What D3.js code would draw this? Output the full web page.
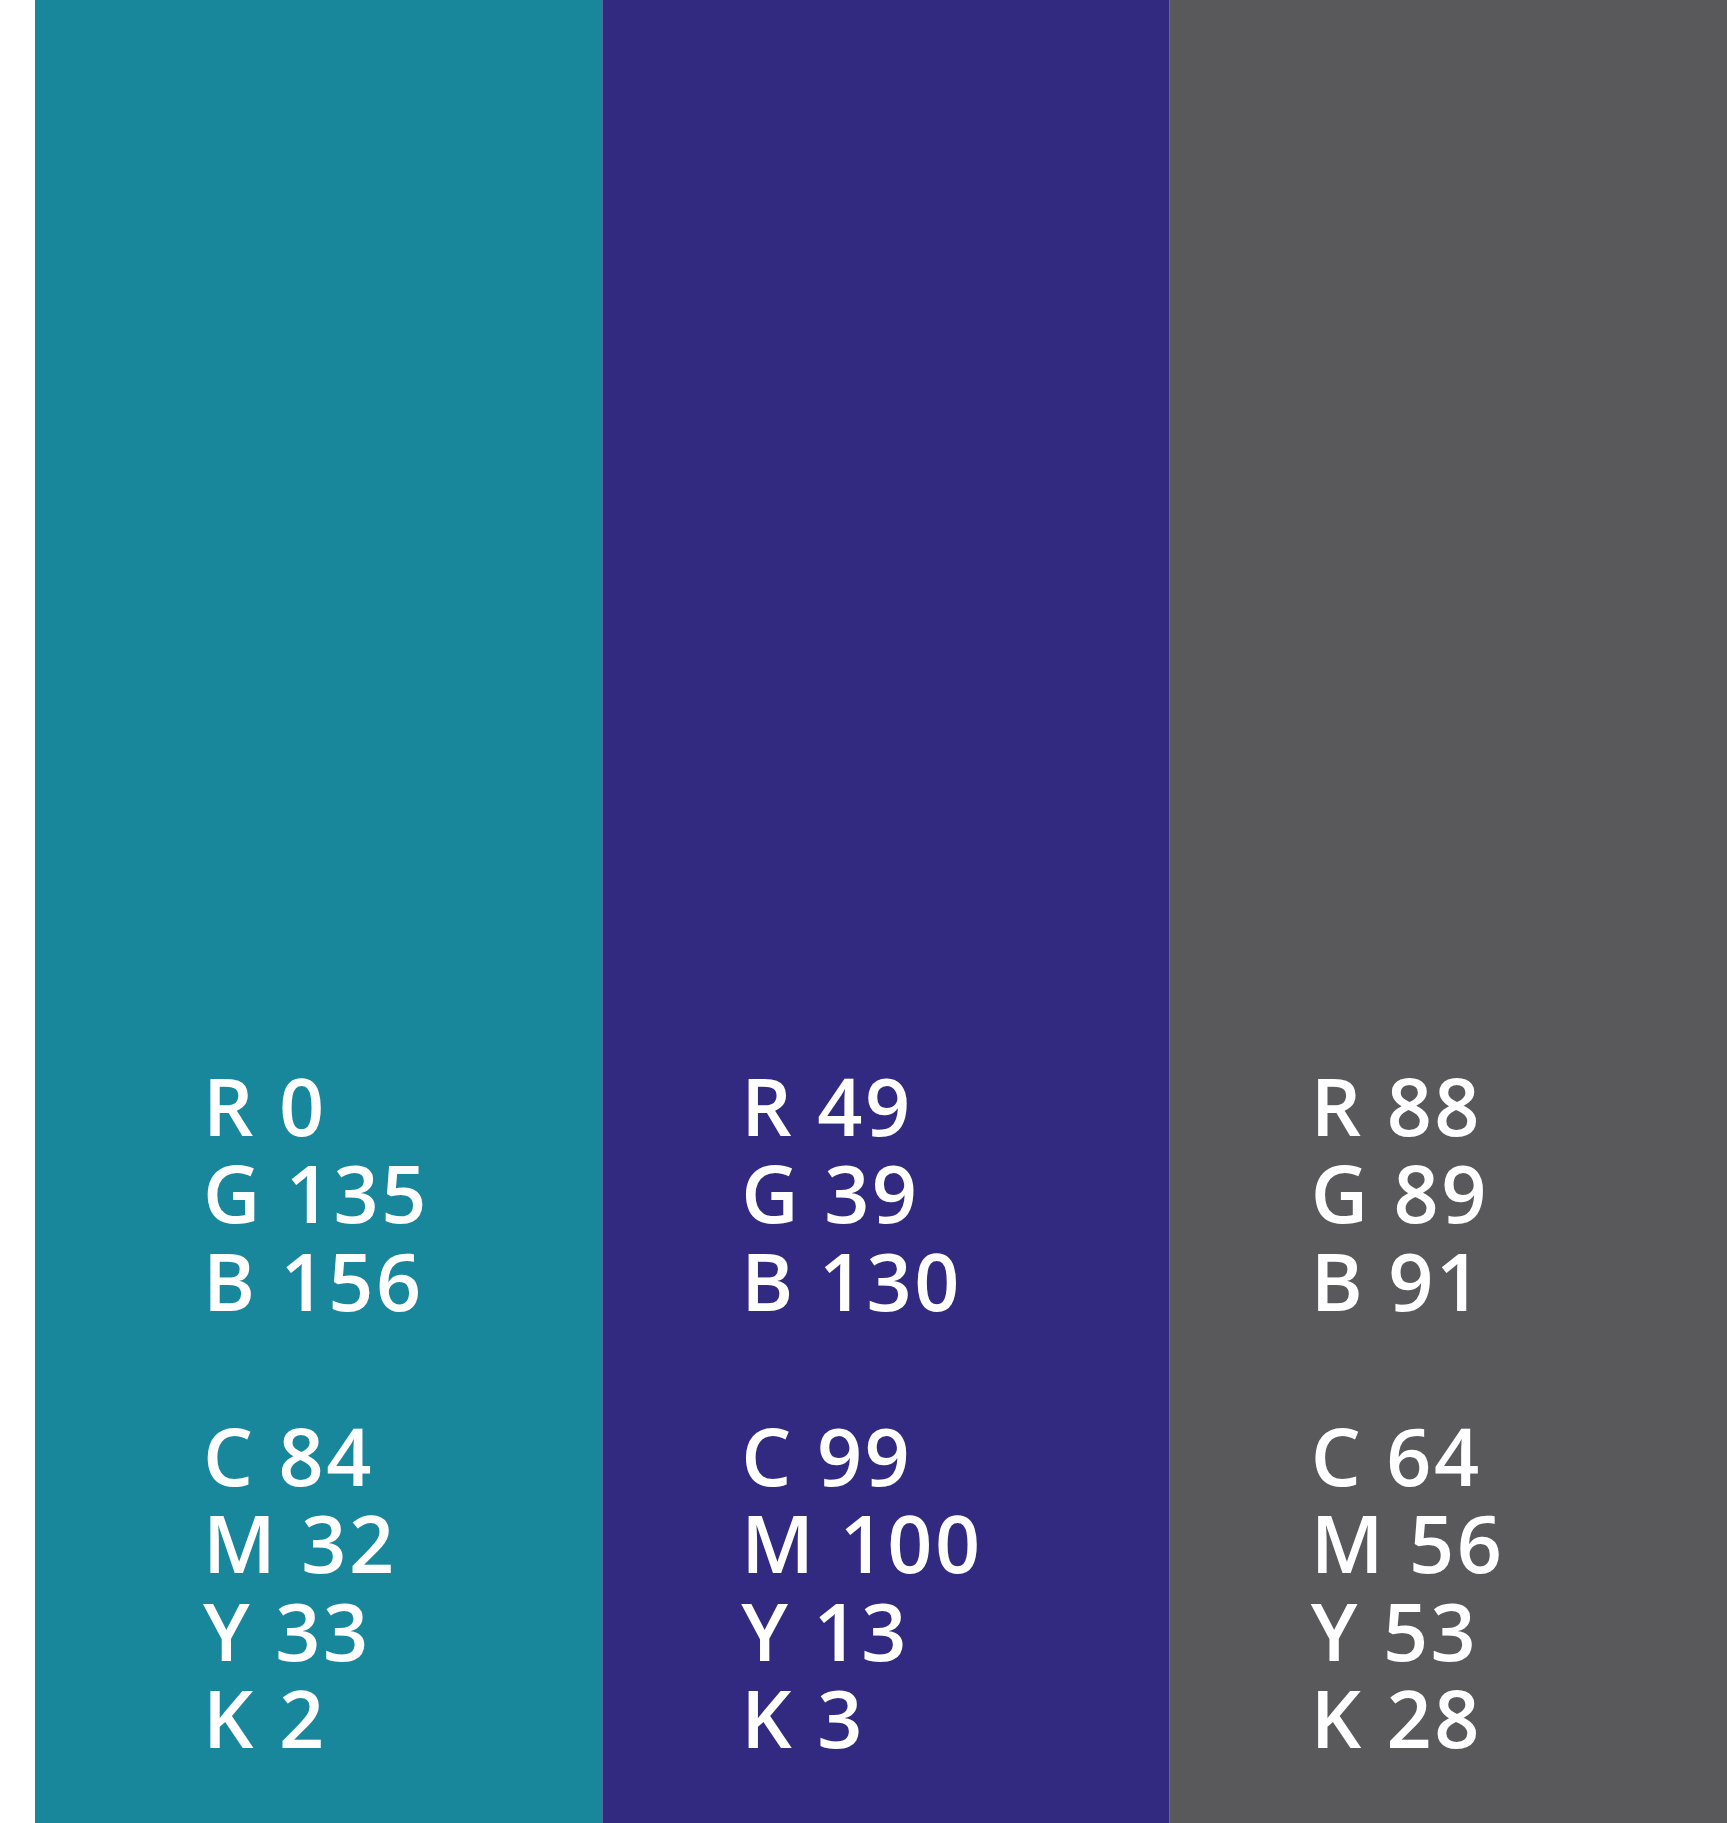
<!DOCTYPE html>
<html lang="en">
  <script src="https://d3js.org/d3.v7.min.js"></script>
  <style>
    body {
      margin: 0;
      background: #fff;
    }
    svg text {
      font-family: "Open Sans", sans-serif;
      font-weight: 600;
      letter-spacing: 2.5px;
      fill: #fff;
    }
  </style>
  <body>
    <svg width="1727" height="1823"></svg>
    <script>
      // swatches, left to right
      const swatches = ["teal", "purple", "grey"];
      const swatchColors = ["#18879c", "#322a81", "#59595b"];
      const rgbValues = [
        [0, 135, 156],
        [49, 39, 130],
        [88, 89, 91],
      ];
      const cmykValues = [
        [84, 32, 33, 2],
        [99, 100, 13, 3],
        [64, 56, 53, 28],
      ];
      const rgbLabels = ["R", "G", "B"];
      const cmykLabels = ["C", "M", "Y", "K"];

      const svg = d3.select("svg");

      // last column runs past the right edge, the picture is cropped there
      var x = d3.scaleBand().domain(swatches).range([35, 1737]).padding(0);
      // text indent inside each column
      var indent = d3.scaleOrdinal().domain(swatches).range([168, 139, 141]);
      // text rows, one blank row between rgb and cmyk
      var y = d3.scaleLinear().domain([0, 7]).range([1136, 1748]);

      svg
        .selectAll("rect")
        .data(swatches)
        .enter()
        .append("rect")
        .attr("x", (d) => x(d))
        .attr("y", 0)
        .attr("width", x.bandwidth())
        .attr("height", 1823)
        .attr("fill", (d, i) => swatchColors[i]);

      swatches.forEach(function (s, i) {
        var lines = [];
        rgbLabels.forEach((l, j) => lines.push({ row: j, text: l + " " + rgbValues[i][j] }));
        cmykLabels.forEach((l, j) => lines.push({ row: j + 4, text: l + " " + cmykValues[i][j] }));

        svg
          .append("g")
          .selectAll("text")
          .data(lines)
          .enter()
          .append("text")
          .attr("x", x(s) + indent(s))
          .attr("y", (d) => y(d.row))
          .attr("font-size", 79)
          .text((d) => d.text);
      });
    </script>
  </body>
</html>
